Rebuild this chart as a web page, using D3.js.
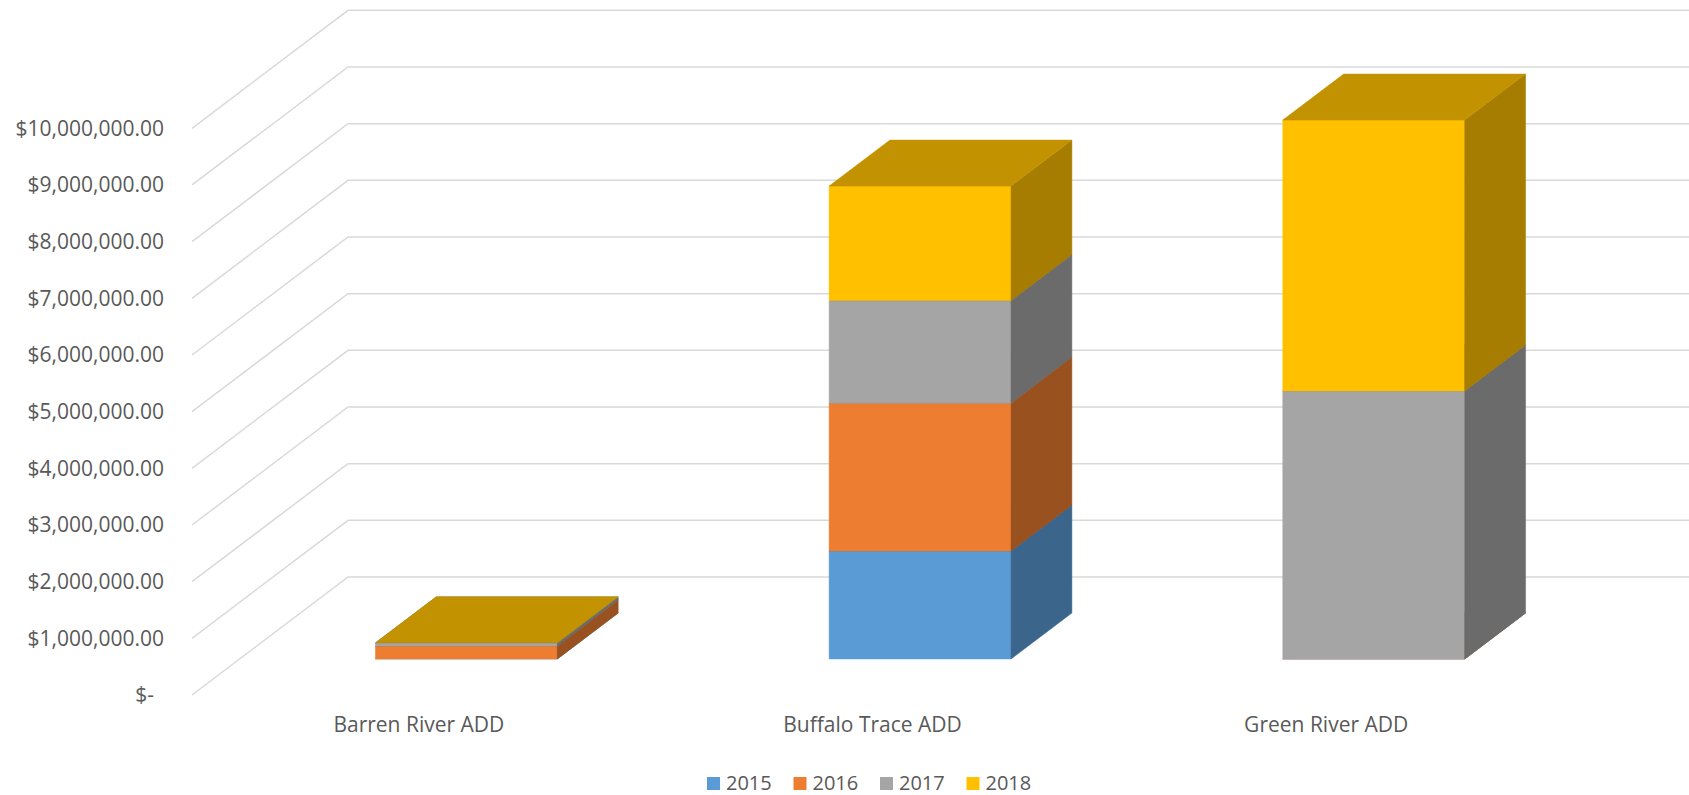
<!DOCTYPE html>
<html>
<head>
<meta charset="utf-8">
<script src="https://cdn.jsdelivr.net/npm/d3@7"></script>
<style>
body { margin: 0; background: #fff; }
text { font-family: "Open Sans", sans-serif; fill: #595959; }
</style>
</head>
<body>
<div id="chart"></div>
<script>
// data
const categories = ["Barren River ADD", "Buffalo Trace ADD", "Green River ADD"];
const years = ["2015", "2016", "2017", "2018"];
const values2015 = [0, 1905000, 0];
const values2016 = [230000, 2610000, 0];
const values2017 = [55000, 1810000, 4730000];
const values2018 = [0, 2020000, 4780000];
const yTicks = [0, 1000000, 2000000, 3000000, 4000000, 5000000,
                6000000, 7000000, 8000000, 9000000, 10000000];

const colors = ["#5b9bd5", "#ed7d31", "#a5a5a5", "#ffc000"];

const width = 1689;
const height = 795;

// 3d look: offset of the back wall from the front plane
const depthX = 156;
const depthY = -118;
const barFront = 0.305;
const barBack = 0.695;

const svg = d3.select("#chart").append("svg")
   .attr("width", width)
   .attr("height", height);

const x = d3.scaleBand()
   .domain(categories)
   .range([192, 1553]);

const y = d3.scaleLinear()
   .domain([0, 10000000])
   .range([695, 128.3]);

// side wall + back wall gridlines
svg.append("g")
   .selectAll("polyline")
   .data(yTicks)
   .join("polyline")
   .attr("points", d => [[192, y(d)], [192 + depthX, y(d) + depthY], [width, y(d) + depthY]].join(" "))
   .attr("fill", "none")
   .attr("stroke", "#d9d9d9")
   .attr("stroke-width", 1.5);

// value axis
const fmt = d3.format("$,.2f");
const yAxis = svg.append("g")
   .attr("transform", "translate(164,0)")
   .call(d3.axisLeft(y).tickValues(yTicks).tickSize(0).tickPadding(0)
      .tickFormat(d => d === 0 ? "$-" : fmt(d)));
yAxis.select(".domain").remove();
yAxis.attr("font-size", 21).attr("font-family", null).style("color", "#595959");
yAxis.selectAll(".tick text").filter(d => d === 0).attr("dx", -10);

// category axis
const xAxis = svg.append("g")
   .attr("transform", "translate(0,714)")
   .call(d3.axisBottom(x).tickSize(0).tickPadding(3));
xAxis.select(".domain").remove();
xAxis.attr("font-size", 21).attr("font-family", null).style("color", "#595959");

// stacked boxes
const rows = categories.map((c, i) => ({
   cat: c,
   "2015": values2015[i],
   "2016": values2016[i],
   "2017": values2017[i],
   "2018": values2018[i]
}));
const series = d3.stack().keys(years)(rows);

const barW = x.bandwidth() * 0.401;

function P(xb, v, d) {
   return [xb + d * depthX, y(v) + d * depthY];
}

function shade(c, k) {
   const r = d3.rgb(c);
   return d3.rgb(r.r * k, r.g * k, r.b * k).formatHex();
}

const bars = svg.append("g");
series.forEach((s, k) => {
   s.forEach(seg => {
      const cx = x(seg.data.cat) + x.bandwidth() / 2;
      const x0 = cx - barW / 2, x1 = cx + barW / 2;
      const v0 = seg[0], v1 = seg[1];
      const front = [P(x0, v0, barFront), P(x1, v0, barFront), P(x1, v1, barFront), P(x0, v1, barFront)];
      const side = [P(x1, v0, barFront), P(x1, v0, barBack), P(x1, v1, barBack), P(x1, v1, barFront)];
      const top = [P(x0, v1, barFront), P(x1, v1, barFront), P(x1, v1, barBack), P(x0, v1, barBack)];
      let faces = [[top, shade(colors[k], 0.76)]];
      if (v1 > v0) {
         faces = [[front, colors[k]], [side, shade(colors[k], 0.65)]].concat(faces);
      }
      faces.forEach(f => {
         bars.append("polygon")
            .attr("points", f[0].join(" "))
            .attr("fill", f[1])
            .attr("stroke", f[1])
            .attr("stroke-width", 0.5);
      });
   });
});

// legend
const legendX = 707;
const legendStep = 86.5;
const legend = svg.append("g");
years.forEach((yr, i) => {
   legend.append("rect")
      .attr("x", legendX + i * legendStep)
      .attr("y", 777)
      .attr("width", 13)
      .attr("height", 13)
      .attr("fill", colors[i]);
   legend.append("text")
      .attr("x", legendX + i * legendStep + 19)
      .attr("y", 790)
      .attr("font-size", 20)
      .text(yr);
});
</script>
</body>
</html>
